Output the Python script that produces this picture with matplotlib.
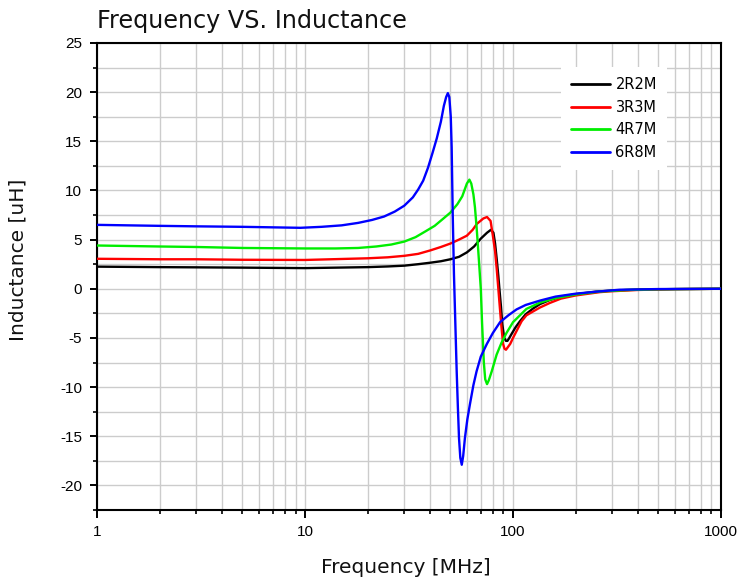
import matplotlib
matplotlib.use("Agg")
import matplotlib.pyplot as plt
from matplotlib.ticker import MultipleLocator, LogLocator, NullFormatter

plt.rcParams["axes.unicode_minus"] = False

# DATA
#------------------------------------------------------------------
freq_2r2m = [1, 2, 3, 5, 10, 20, 25, 30, 35, 40, 45, 50, 55, 60, 65, 70, 75, 78.3, 80.5, 82,
             83.5, 85, 86, 87.5, 88.8, 90.7, 92.5, 94, 96, 98.4, 103, 108, 115, 125, 135,
             150, 170, 200, 250, 300, 400, 600, 1000]
ind_2r2m = [2.25, 2.2, 2.18, 2.15, 2.1, 2.2, 2.27, 2.35, 2.5, 2.65, 2.8, 3.0, 3.25, 3.7, 4.3,
            5.1, 5.7, 6.0, 5.7, 4.6, 3.0, 1.3, 0, -1.8, -3.6, -5.0, -5.3, -5.3, -5.0, -4.6,
            -3.9, -3.3, -2.6, -2.0, -1.55, -1.15, -0.8, -0.55, -0.3, -0.18, -0.08, -0.03, 0]

freq_3r3m = [1, 2, 3, 5, 10, 20, 25, 30, 35, 40, 45, 50, 55, 60, 64, 67, 72, 75, 78, 80, 82,
             83.5, 85, 86.5, 88, 89.6, 91, 92.5, 94, 97, 100, 104, 110, 116, 125, 135, 150,
             170, 200, 262, 300, 400, 600, 1000]
ind_3r3m = [3.05, 3.0, 3.0, 2.95, 2.93, 3.1, 3.2, 3.35, 3.55, 3.9, 4.25, 4.6, 5.0, 5.4, 6.0,
            6.6, 7.15, 7.3, 6.9, 5.4, 3.8, 2.0, 0, -2.0, -3.9, -5.6, -6.1, -6.2, -6.0, -5.6,
            -5.0, -4.3, -3.3, -2.7, -2.3, -1.9, -1.45, -1.0, -0.68, -0.34, -0.25, -0.12,
            -0.04, 0]

freq_4r7m = [1, 2, 3, 5, 10, 14, 18, 22, 26, 30, 34, 38, 42, 46, 50, 54, 57, 60, 61.7, 63,
             64.5, 65.6, 66.8, 68, 69, 70, 71, 72.4, 73.5, 75, 76.5, 79, 83.4, 88, 93, 100,
             108, 116, 135, 160, 200, 262, 350, 500, 1000]
ind_4r7m = [4.4, 4.3, 4.25, 4.15, 4.1, 4.1, 4.15, 4.3, 4.5, 4.8, 5.25, 5.85, 6.4, 7.1, 7.75,
            8.6, 9.4, 10.7, 11.1, 10.7, 9.6, 8.3, 6.3, 4.0, 2.0, 0, -3.5, -7.5, -9.2, -9.7,
            -9.3, -8.4, -6.7, -5.5, -4.5, -3.4, -2.7, -2.05, -1.4, -0.95, -0.58, -0.28,
            -0.13, -0.05, 0]

freq_6r8m = [1, 2, 3, 5, 9.5, 12, 15, 18, 21, 24, 27, 30, 33, 35, 37, 39, 41, 43, 45, 46.5,
             47.7, 48.6, 49.4, 50.2, 50.7, 51.3, 52, 52.8, 53.6, 54.3, 55, 55.8, 56.7, 57.6,
             58.7, 60.3, 62, 64.5, 66.8, 70, 74.9, 80, 86.6, 95, 104, 115, 135, 160, 200,
             250, 325, 500, 1000]
ind_6r8m = [6.5, 6.4, 6.35, 6.3, 6.2, 6.3, 6.45, 6.7, 7.0, 7.35, 7.85, 8.45, 9.3, 10.1, 11.0,
            12.3, 13.8, 15.3, 17.0, 18.6, 19.5, 19.9, 19.5, 17.5, 14.4, 7.6, 1.5, -3.5, -8.4,
            -12.0, -15.2, -17.2, -17.9, -17.0, -15.2, -13.3, -11.8, -9.8, -8.4, -6.9, -5.6,
            -4.5, -3.4, -2.7, -2.1, -1.65, -1.2, -0.8, -0.5, -0.3, -0.1, -0.03, 0]

series_names  = ["2R2M", "3R3M", "4R7M", "6R8M"]
series_colors = ["#000000", "#ff0000", "#00ee00", "#0000ff"]
x_ticks       = [1, 10, 100, 1000]
x_tick_labels = ["1", "10", "100", "1000"]
y_ticks       = [-20, -15, -10, -5, 0, 5, 10, 15, 20, 25]

# FIGURE
#------------------------------------------------------------------
fig = plt.figure(figsize=(7.43, 5.88), dpi=100)
ax = fig.add_axes([0.1306, 0.1327, 0.8398, 0.7942])

all_series = [(freq_2r2m, ind_2r2m), (freq_3r3m, ind_3r3m),
              (freq_4r7m, ind_4r7m), (freq_6r8m, ind_6r8m)]
for (f, l), name, col in zip(all_series, series_names, series_colors):
    ax.plot(f, l, color=col, lw=1.7, label=name, zorder=3,
            solid_joinstyle="round", solid_capstyle="round")

ax.set_xscale("log")
ax.set_xlim(1, 1000)
ax.set_ylim(-22.5, 25)

ax.set_xticks(x_ticks)
ax.set_xticklabels(x_tick_labels)
ax.xaxis.set_minor_locator(LogLocator(base=10, subs=range(2, 10)))
ax.xaxis.set_minor_formatter(NullFormatter())
ax.set_yticks(y_ticks)
ax.yaxis.set_minor_locator(MultipleLocator(2.5))

ax.grid(True, which="both", color="#cccccc", lw=1.0, zorder=0)
ax.set_axisbelow(True)

for sp in ax.spines.values():
    sp.set_linewidth(1.5)
    sp.set_color("black")

ax.tick_params(which="major", direction="out", length=5.4, width=1.4, pad=5.5,
               labelsize=11, labelfontfamily="Liberation Sans")
ax.tick_params(which="minor", direction="out", length=3, width=1.2)

ax.set_title("Frequency VS. Inductance", loc="left", fontsize=17.2, pad=10.5,
             family="DejaVu Sans", color="#111111")
ax.set_xlabel("Frequency [MHz]", fontsize=14.5, family="DejaVu Sans", color="#111111")
ax.set_ylabel("Inductance [uH]", fontsize=14.5, family="DejaVu Sans", color="#111111")
ax.xaxis.set_label_coords(0.495, -0.102)
ax.yaxis.set_label_coords(-0.112, 0.535)

leg = ax.legend(loc="upper right", bbox_to_anchor=(0.9135, 0.9486), borderaxespad=0,
                fontsize=10.5, frameon=True, fancybox=False, edgecolor="none",
                framealpha=1.0, handlelength=2.7, handletextpad=0.35,
                labelspacing=0.52, borderpad=0.7)
for h in leg.get_lines():
    h.set_linewidth(2.0)
leg.set_zorder(5)

fig.savefig("out.png", dpi=100)
